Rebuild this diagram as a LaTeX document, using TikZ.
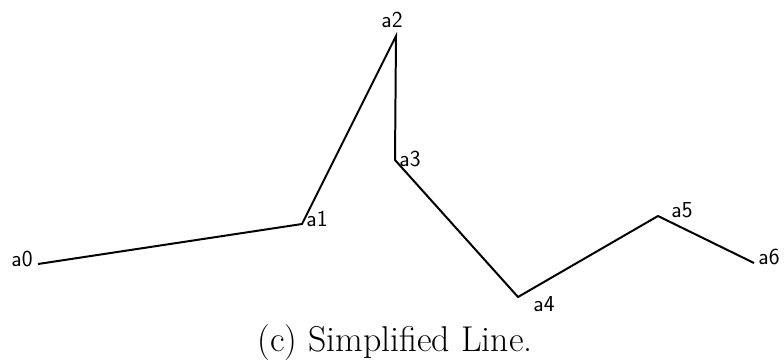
\documentclass[tikz,border=0pt]{standalone}
\begin{document}
\begin{tikzpicture}[x=1bp,y=-1bp,
  lbl/.style={font=\sffamily\fontsize{23}{26}\selectfont, inner sep=0pt, anchor=center},
  pline/.style={line width=2pt, line join=miter, line cap=butt}]
\useasboundingbox (0,0) rectangle (784,361);
\coordinate (a0) at (38,264);
\coordinate (a1) at (302,224);
\coordinate (a2) at (396,36);
\coordinate (a3) at (395,160);
\coordinate (a4) at (518,297);
\coordinate (a5) at (658,216);
\coordinate (a6) at (754,263);
\draw[pline] (a0) -- (a1) -- (a2) -- (a3) -- (a4) -- (a5) -- (a6);
\node[lbl] (l0) at (22,259) {a0};
\node[lbl] (l1) at (317,219) {a1};
\node[lbl] (l2) at (392,20) {a2};
\node[lbl] (l3) at (410,159) {a3};
\node[lbl] (l4) at (544,304) {a4};
\node[lbl] (l5) at (682,210) {a5};
\node[lbl] (l6) at (769,257) {a6};
\node[font=\fontsize{36}{42}\selectfont, inner sep=0pt, anchor=base] (cap) at (395,351) {(c) Simplified Line.};
\end{tikzpicture}
\end{document}
